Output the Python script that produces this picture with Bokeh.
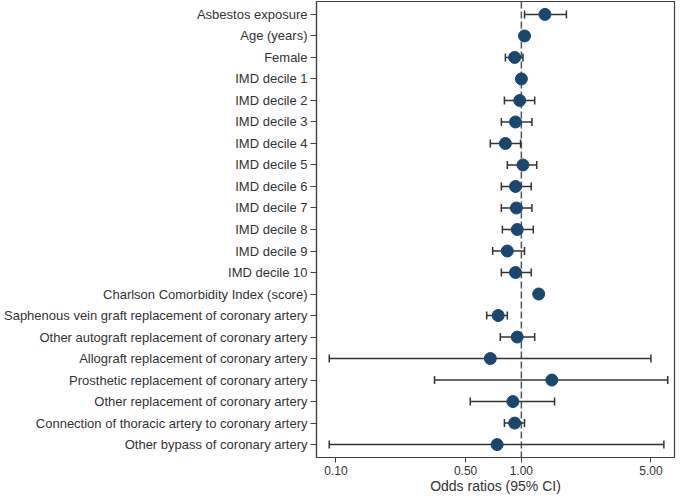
from bokeh.plotting import figure
from bokeh.models import FactorRange, Range1d, FixedTicker, NumeralTickFormatter, Span, ColumnDataSource
from bokeh.embed import file_html
from bokeh.resources import INLINE

labels = [
    "Asbestos exposure", "Age (years)", "Female",
    "IMD decile 1", "IMD decile 2", "IMD decile 3", "IMD decile 4", "IMD decile 5",
    "IMD decile 6", "IMD decile 7", "IMD decile 8", "IMD decile 9", "IMD decile 10",
    "Charlson Comorbidity Index (score)",
    "Saphenous vein graft replacement of coronary artery",
    "Other autograft replacement of coronary artery",
    "Allograft replacement of coronary artery",
    "Prosthetic replacement of coronary artery",
    "Other replacement of coronary artery",
    "Connection of thoracic artery to coronary artery",
    "Other bypass of coronary artery",
]
odds = [1.34, 1.04, 0.92, 1.00, 0.98, 0.93, 0.82, 1.02, 0.93, 0.94, 0.95, 0.84, 0.93,
        1.24, 0.75, 0.95, 0.68, 1.46, 0.90, 0.92, 0.74]
lower = [1.04, 1.03, 0.82, 1.00, 0.81, 0.78, 0.68, 0.84, 0.78, 0.78, 0.79, 0.70, 0.78,
         1.22, 0.65, 0.77, 0.092, 0.34, 0.53, 0.81, 0.092]
upper = [1.75, 1.05, 1.02, 1.00, 1.18, 1.14, 0.99, 1.21, 1.13, 1.14, 1.16, 1.04, 1.13,
         1.26, 0.84, 1.18, 5.0, 6.16, 1.51, 1.04, 5.87]
x_ticks = [0.1, 0.5, 1.0, 5.0]

src = ColumnDataSource(dict(label=labels, odds=odds, lower=lower, upper=upper))

p = figure(width=677, height=496,
           y_range=FactorRange(factors=labels[::-1], range_padding=0.1, range_padding_units="absolute"),
           x_range=Range1d(0.0785, 6.7), x_axis_type="log",
           output_backend="svg", toolbar_location=None,
           min_border_left=313, min_border_right=3, min_border_top=1, min_border_bottom=30)

p.xgrid.visible = False
p.ygrid.visible = False
p.outline_line_color = "#404040"
p.outline_line_width = 1.2

ref = Span(location=1.0, dimension="height", line_color="#555555", line_width=1.5,
           line_dash="7 3", level="underlay")
p.add_layout(ref)

ci_col = "#333333"
p.segment(x0="lower", y0="label", x1="upper", y1="label", source=src,
          line_color=ci_col, line_width=1.5)
p.scatter(x="lower", y="label", source=src, marker="dash", angle=1.5708, size=8,
          line_color=ci_col, line_width=1.5)
p.scatter(x="upper", y="label", source=src, marker="dash", angle=1.5708, size=8,
          line_color=ci_col, line_width=1.5)
p.scatter(x="odds", y="label", source=src, marker="circle", size=12,
          fill_color="#1a476f", line_color="#1a476f")

xa = p.xaxis[0]
xa.ticker = FixedTicker(ticks=x_ticks, minor_ticks=[])
xa.formatter = NumeralTickFormatter(format="0.00")
xa.axis_label = "Odds ratios (95% CI)"
xa.axis_label_text_font = "Liberation Sans"
xa.axis_label_text_font_size = "14px"
xa.axis_label_text_font_style = "normal"
xa.axis_label_text_color = "#333333"
xa.axis_label_standoff = 0
xa.major_label_text_font = "Liberation Sans"
xa.major_label_text_font_size = "12px"
xa.major_label_text_color = "#333333"
xa.major_label_standoff = 3
xa.major_tick_out = 5
xa.major_tick_in = 0
xa.minor_tick_out = 0
xa.axis_line_color = "#404040"
xa.axis_line_width = 1.2
xa.major_tick_line_color = "#404040"

ya = p.yaxis[0]
ya.major_label_text_font = "Liberation Sans"
ya.major_label_text_font_size = "13px"
ya.major_label_text_color = "#333333"
ya.major_tick_out = 6
ya.major_tick_in = 0
ya.major_label_standoff = 3
ya.axis_line_color = "#404040"
ya.axis_line_width = 1.2
ya.major_tick_line_color = "#404040"

open("out.html", "w").write(file_html(p, INLINE))
